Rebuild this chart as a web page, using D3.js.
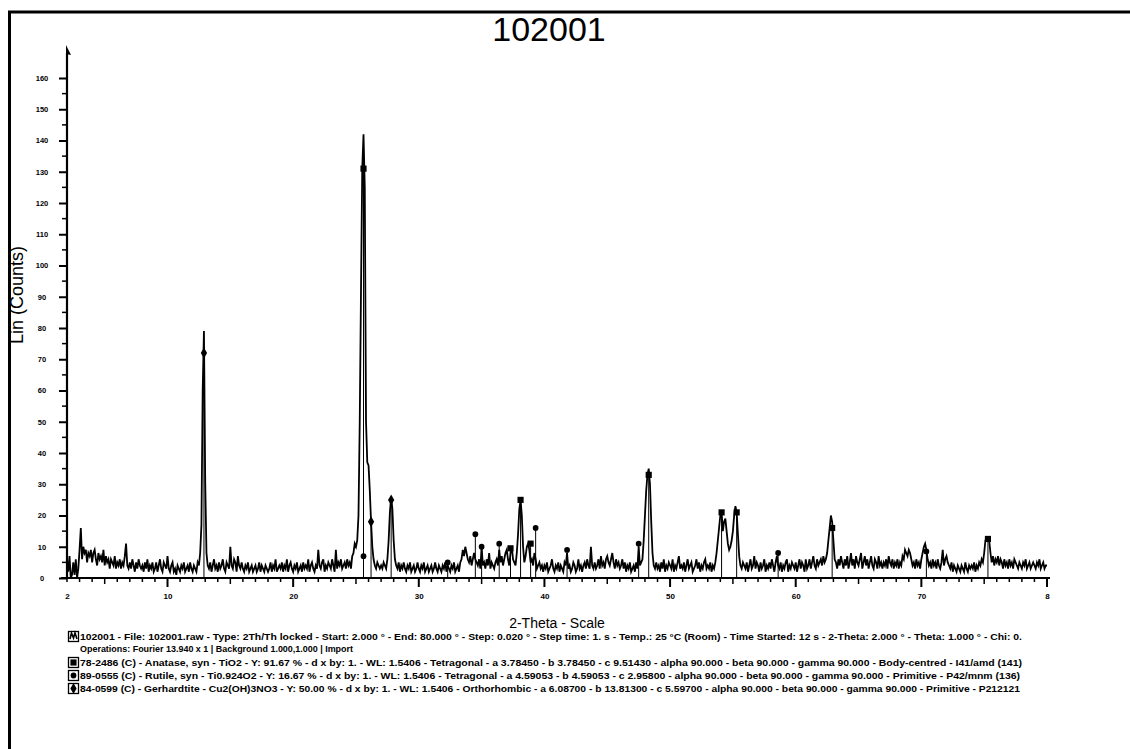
<!DOCTYPE html>
<html><head><meta charset="utf-8">
<script src="https://cdn.jsdelivr.net/npm/d3@7"></script>
<style>
html,body{margin:0;padding:0;background:#fff;}
svg{display:block;}
text{font-family:"Liberation Sans",Arial,sans-serif;fill:#000;}
</style></head><body>
<svg id="chart" width="1130" height="749"></svg>
<script>
// Sample 102001 — powder XRD scan, counts at 0.1° steps from 2° to 80° 2θ
const title = "102001";
const scanStart = 2.0, scanStep = 0.1;
const counts = [
  6, 2, 7, 0, 1, 5, 1, 6, 0, 3,        // 2°
  9, 16, 6, 10, 8, 9, 5, 8, 7, 9,      // 3°
  5, 8, 9, 6, 4, 8, 6, 7, 5, 9,        // 4°
  4, 7, 5, 6, 3, 6, 5, 4, 7, 3,        // 5°
  5, 4, 6, 3, 5, 4, 7, 11, 4, 3,       // 6°
  5, 3, 6, 4, 2, 5, 3, 6, 4, 3,        // 7°
  4, 2, 5, 3, 6, 2, 4, 3, 5, 2,        // 8°
  3, 5, 2, 4, 6, 3, 2, 5, 4, 3,        // 9°
  7, 3, 2, 4, 5, 2, 3, 1, 4, 3,        // 10°
  2, 4, 3, 5, 2, 3, 4, 2, 5, 3,        // 11°
  2, 4, 3, 2, 5, 4, 8, 17, 60, 79,     // 12°
  31, 8, 4, 3, 5, 2, 4, 6, 3, 4,       // 13°
  2, 5, 3, 4, 6, 3, 2, 5, 4, 3,        // 14°
  10, 4, 3, 6, 5, 2, 7, 4, 3, 5,       // 15°
  3, 2, 4, 3, 5, 2, 3, 4, 2, 3,        // 16°
  4, 2, 3, 5, 2, 4, 3, 2, 4, 3,        // 17°
  2, 3, 5, 2, 4, 3, 6, 2, 3, 4,        // 18°
  3, 5, 2, 4, 3, 6, 2, 4, 5, 3,        // 19°
  2, 4, 3, 5, 2, 3, 4, 2, 5, 3,        // 20°
  4, 3, 6, 2, 4, 5, 3, 2, 4, 3,        // 21°
  9, 4, 3, 5, 6, 2, 4, 3, 5, 4,        // 22°
  3, 6, 4, 2, 9, 3, 5, 4, 6, 3,        // 23°
  4, 5, 3, 6, 4, 5, 3, 7, 8, 11,       // 24°
  10, 12, 20, 50, 92, 131, 142, 125, 50, 37, // 25°
  36, 28, 18, 10, 6, 4, 3, 5, 4, 3,    // 26°
  4, 3, 5, 4, 3, 6, 12, 21, 26, 22,    // 27°
  12, 6, 4, 3, 5, 2, 4, 3, 5, 3,       // 28°
  2, 4, 3, 5, 2, 3, 4, 2, 3, 5,        // 29°
  3, 2, 4, 3, 5, 2, 3, 4, 2, 3,        // 30°
  4, 2, 3, 5, 3, 2, 4, 3, 2, 4,        // 31°
  3, 5, 2, 4, 3, 2, 4, 3, 5, 2,        // 32°
  3, 4, 2, 5, 6, 9, 7, 10, 8, 6,       // 33°
  5, 7, 4, 6, 8, 6, 5, 4, 6, 3,        // 34°
  10, 4, 5, 3, 6, 4, 8, 3, 5, 4,       // 35°
  3, 5, 6, 4, 9, 5, 7, 4, 6, 8,        // 36°
  9, 6, 4, 8, 10, 6, 5, 4, 8, 14,      // 37°
  22, 25, 20, 10, 5, 7, 10, 11, 9, 5,  // 38°
  6, 4, 8, 6, 3, 4, 5, 3, 4, 2,        // 39°
  4, 3, 5, 2, 3, 4, 6, 3, 2, 4,        // 40°
  3, 5, 2, 4, 3, 2, 5, 4, 8, 3,        // 41°
  4, 2, 3, 5, 4, 2, 3, 6, 3, 4,        // 42°
  2, 4, 5, 3, 6, 4, 3, 10, 4, 3,       // 43°
  5, 3, 4, 6, 3, 7, 4, 5, 3, 6,        // 44°
  7, 5, 4, 6, 8, 5, 3, 6, 4, 5,        // 45°
  3, 4, 6, 3, 5, 2, 4, 3, 5, 2,        // 46°
  3, 4, 2, 5, 3, 10, 4, 5, 6, 12,      // 47°
  20, 28, 33, 35, 30, 18, 8, 4, 3, 5,  // 48°
  3, 4, 2, 5, 3, 6, 2, 4, 3, 5,        // 49°
  4, 3, 6, 2, 4, 3, 5, 7, 3, 4,        // 50°
  3, 5, 2, 4, 6, 3, 4, 5, 2, 3,        // 51°
  4, 6, 3, 5, 2, 4, 3, 5, 6, 3,        // 52°
  4, 3, 5, 2, 4, 3, 5, 8, 12, 16,      // 53°
  20, 21, 15, 18, 19, 15, 11, 9, 10, 12, // 54°
  15, 20, 23, 21, 14, 7, 4, 3, 5, 4,   // 55°
  3, 5, 2, 4, 6, 3, 4, 7, 3, 5,        // 56°
  4, 2, 5, 3, 4, 6, 2, 4, 3, 5,        // 57°
  3, 6, 4, 2, 5, 7, 4, 3, 5, 2,        // 58°
  4, 3, 5, 6, 2, 4, 3, 5, 4, 3,        // 59°
  5, 2, 4, 6, 3, 5, 4, 2, 6, 3,        // 60°
  4, 6, 3, 5, 7, 4, 3, 6, 4, 5,        // 61°
  6, 4, 7, 5, 6, 8, 12, 16, 20, 18,    // 62°
  12, 6, 5, 3, 6, 4, 7, 5, 3, 6,       // 63°
  4, 7, 3, 5, 8, 4, 6, 3, 7, 5,        // 64°
  4, 6, 8, 3, 5, 7, 4, 6, 3, 5,        // 65°
  7, 4, 3, 6, 5, 3, 7, 4, 5, 3,        // 66°
  5, 4, 6, 3, 7, 5, 4, 6, 3, 5,        // 67°
  4, 6, 3, 5, 4, 7, 6, 9, 8, 7,        // 68°
  9, 8, 6, 4, 5, 3, 6, 4, 5, 3,        // 69°
  6, 8, 10, 11, 9, 6, 4, 5, 3, 6,      // 70°
  4, 5, 3, 6, 4, 3, 5, 9, 4, 6,        // 71°
  7, 5, 4, 3, 5, 2, 4, 3, 2, 4,        // 72°
  3, 2, 4, 3, 2, 5, 3, 2, 4, 3,        // 73°
  4, 3, 5, 2, 4, 3, 5, 4, 6, 5,        // 74°
  8, 12, 13, 13, 12, 8, 5, 7, 4, 6,    // 75°
  5, 7, 4, 6, 5, 3, 6, 4, 5, 3,        // 76°
  6, 4, 5, 3, 6, 5, 4, 3, 5, 4,        // 77°
  3, 5, 4, 6, 3, 4, 5, 3, 4, 5,        // 78°
  4, 3, 5, 4, 6, 3, 4, 5, 3, 4,        // 79°
  4                                    // 80°
];

const xTickValues = [2, 10, 20, 30, 40, 50, 60, 70, 80];
const xTickLabels = ["2", "10", "20", "30", "40", "50", "60", "70", "8"];
const yTickValues = [0, 10, 20, 30, 40, 50, 60, 70, 80, 90, 100, 110, 120, 130, 140, 150, 160];

// Phase identification sticks: [2θ, marker height]
const anatasePeaks = [[25.6, 131], [37.3, 9.5], [38.1, 25], [38.9, 11], [48.3, 33],
                      [54.1, 21], [55.3, 21], [62.9, 16], [75.3, 12.5]];
const rutilePeaks = [[25.6, 7], [32.3, 5], [34.5, 14], [35.0, 10], [36.4, 11], [39.3, 16],
                     [41.8, 9], [47.5, 11], [58.6, 8], [70.4, 8.5]];
const gerhardtitePeaks = [[12.9, 72], [26.2, 18], [27.8, 25]];

const legendScan = [
  "102001 - File: 102001.raw - Type: 2Th/Th locked - Start: 2.000 ° - End: 80.000 ° - Step: 0.020 ° - Step time: 1. s - Temp.: 25 °C (Room) - Time Started: 12 s - 2-Theta: 2.000 ° - Theta: 1.000 ° - Chi: 0.",
  "Operations: Fourier 13.940 x 1 | Background 1.000,1.000 | Import"
];
const legendPhases = [
  "78-2486 (C) - Anatase, syn - TiO2 - Y: 91.67 % - d x by: 1. - WL: 1.5406 - Tetragonal - a 3.78450 - b 3.78450 - c 9.51430 - alpha 90.000 - beta 90.000 - gamma 90.000 - Body-centred - I41/amd (141)",
  "89-0555 (C) - Rutile, syn - Ti0.924O2 - Y: 16.67 % - d x by: 1. - WL: 1.5406 - Tetragonal - a 4.59053 - b 4.59053 - c 2.95800 - alpha 90.000 - beta 90.000 - gamma 90.000 - Primitive - P42/mnm (136)",
  "84-0599 (C) - Gerhardtite - Cu2(OH)3NO3 - Y: 50.00 % - d x by: 1. - WL: 1.5406 - Orthorhombic - a 6.08700 - b 13.81300 - c 5.59700 - alpha 90.000 - beta 90.000 - gamma 90.000 - Primitive - P212121"
];

const svg = d3.select("#chart");

// page frame
svg.append("line").attr("x1", 9.5).attr("x2", 9.5).attr("y1", 11).attr("y2", 749)
  .attr("stroke", "#000").attr("stroke-width", 3);
svg.append("line").attr("x1", 8).attr("x2", 1130).attr("y1", 12).attr("y2", 12)
  .attr("stroke", "#000").attr("stroke-width", 3);

svg.append("text").attr("x", 549).attr("y", 41).attr("text-anchor", "middle")
  .attr("font-size", 34).text(title);

const x = d3.scaleLinear().domain([2, 80]).range([67, 1047]);
const y = d3.scaleLinear().domain([0, 168]).range([578, 53]);

// x axis: minor ticks every degree, longer at 5s and 10s
const xAxisG = svg.append("g").attr("transform", `translate(0,${y(0)})`);
xAxisG.append("line").attr("x1", x(2) - 6).attr("x2", x(80) + 3).attr("stroke", "#000").attr("stroke-width", 2.2);
xAxisG.selectAll("line.minor").data(d3.range(2, 81)).join("line")
  .attr("class", "minor")
  .attr("x1", d => x(d)).attr("x2", d => x(d))
  .attr("y1", 0).attr("y2", d => d % 10 === 0 ? 9 : (d % 5 === 0 ? 6 : 4))
  .attr("stroke", "#000").attr("stroke-width", d => d % 10 === 0 ? 2 : 1.5);
const xAxis = d3.axisBottom(x).tickValues(xTickValues)
  .tickFormat((d, i) => xTickLabels[i]).tickSize(0).tickPadding(15);
xAxisG.append("g").call(xAxis).call(g => g.select(".domain").remove())
  .selectAll("text").attr("font-size", 8).attr("font-weight", "bold")
  .attr("font-family", "'Liberation Sans',Arial,sans-serif");

// y axis with arrow head
const yAxisG = svg.append("g").attr("transform", `translate(${x(2)},0)`);
yAxisG.append("line").attr("y1", y(0)).attr("y2", y(168)).attr("stroke", "#000").attr("stroke-width", 2.2);
yAxisG.append("path").attr("d", `M-1,${y(168) - 8} L4,${y(168) + 2} L-1,${y(168) + 1} Z`).attr("fill", "#000");
yAxisG.selectAll("line.minor").data(d3.range(5, 165, 10)).join("line")
  .attr("class", "minor")
  .attr("x1", -5).attr("x2", 0).attr("y1", d => y(d)).attr("y2", d => y(d))
  .attr("stroke", "#000").attr("stroke-width", 1.5);
const yAxis = d3.axisLeft(y).tickValues(yTickValues).tickSize(8).tickPadding(17);
yAxisG.append("g").call(yAxis).call(g => g.select(".domain").remove())
  .call(g => g.selectAll(".tick line").attr("stroke-width", 2))
  .selectAll("text").attr("font-size", 7.5).attr("font-weight", "bold").attr("text-anchor", "middle")
  .attr("font-family", "'Liberation Sans',Arial,sans-serif");

svg.append("text").attr("transform", `translate(23,295) rotate(-90)`)
  .attr("text-anchor", "middle").attr("font-size", 18).text("Lin (Counts)");

svg.append("text").attr("x", 557).attr("y", 628).attr("text-anchor", "middle")
  .attr("font-size", 14).text("2-Theta - Scale");

// phase sticks and markers
const phases = [
  {peaks: anatasePeaks, shape: d3.symbolSquare, size: 38},
  {peaks: rutilePeaks, shape: d3.symbolCircle, size: 26},
  {peaks: gerhardtitePeaks, shape: d3.symbolDiamond, size: 34}
];
phases.forEach(p => {
  svg.append("g").selectAll("line").data(p.peaks).join("line")
    .attr("x1", d => x(d[0])).attr("x2", d => x(d[0]))
    .attr("y1", y(0)).attr("y2", d => y(d[1]))
    .attr("stroke", "#000").attr("stroke-width", 1);
});

// measured pattern
const line = d3.line().x((d, i) => x(scanStart + i * scanStep)).y(d => y(d));
svg.append("path").datum(counts).attr("d", line)
  .attr("fill", "none").attr("stroke", "#000").attr("stroke-width", 1.8).attr("stroke-linejoin", "miter");

phases.forEach(p => {
  svg.append("g").selectAll("path").data(p.peaks).join("path")
    .attr("transform", d => `translate(${x(d[0])},${y(d[1])})`)
    .attr("d", d3.symbol().type(p.shape).size(p.size)).attr("fill", "#000");
});

// legend
const legendG = svg.append("g");
const rows = [640, 652, 666, 679, 692];
const lengths = [942, 273, 942, 940, 940];
const texts = legendScan.concat(legendPhases);
texts.forEach((t, i) => {
  legendG.append("text").attr("x", 80).attr("y", rows[i])
    .attr("font-size", 8.5).attr("font-weight", "bold")
    .attr("textLength", lengths[i]).attr("lengthAdjust", "spacingAndGlyphs").text(t);
});
function iconBox(yc) {
  legendG.append("rect").attr("x", 68.5).attr("y", yc - 5).attr("width", 10).attr("height", 10)
    .attr("fill", "#fff").attr("stroke", "#000").attr("stroke-width", 1.3);
}
iconBox(rows[0] - 3.5);
legendG.append("path").attr("d", `M70,${rows[0] - 1} L71.5,${rows[0] - 7} L73.5,${rows[0] - 2} L75,${rows[0] - 7} L77,${rows[0] - 1}`)
  .attr("fill", "none").attr("stroke", "#000").attr("stroke-width", 1.6);
phases.forEach((p, i) => {
  const yc = rows[i + 2] - 3.5;
  iconBox(yc);
  legendG.append("path").attr("transform", `translate(73.5,${yc})`)
    .attr("d", d3.symbol().type(p.shape).size(p.size)).attr("fill", "#000");
});
</script>
</body></html>
